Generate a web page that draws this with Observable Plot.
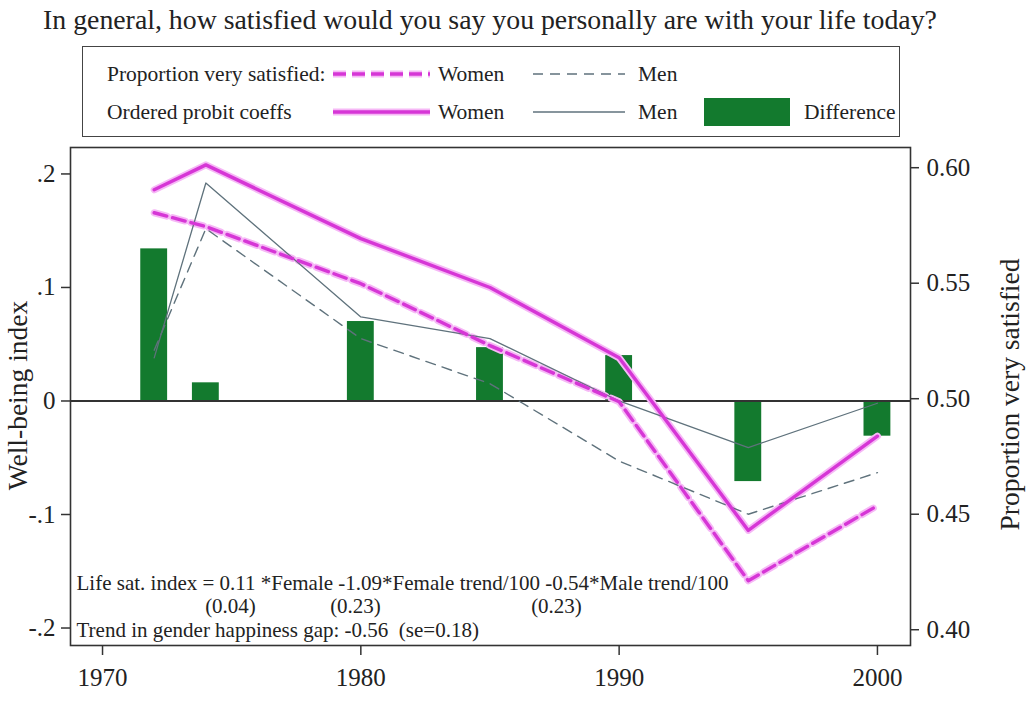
<!DOCTYPE html>
<html><head><meta charset="utf-8">
<script src="https://cdn.jsdelivr.net/npm/d3@7"></script>
<script src="https://cdn.jsdelivr.net/npm/@observablehq/plot@0.6"></script>
<style>
body{margin:0;background:#fff;font-family:"Liberation Serif","Times New Roman",serif;color:#222}
#wrap{position:relative;width:1026px;height:702px;overflow:hidden;background:#fff}
#title{position:absolute;top:4px;left:0;width:980px;text-align:center;font-size:27.8px;line-height:32px;white-space:nowrap}
#legend{position:absolute;left:82px;top:46px;width:816px;height:89px;border:1.5px solid #444}
.lt{position:absolute;font-size:21.5px;line-height:24px;white-space:nowrap}
.sw{position:absolute;overflow:visible}
#chart{position:absolute;left:0;top:140px}
</style></head><body>
<div id="wrap">
  <div id="title"></div>
  <div id="legend"></div>
  <div id="chart"></div>
</div>
<script>
// ---- data ----
const years = [1972, 1974, 1980, 1985, 1990, 1995, 2000];
const probitWomen = [0.186, 0.208, 0.143, 0.100, 0.038, -0.114, -0.031];
const probitMen = [0.038, 0.192, 0.074, 0.055, 0.000, -0.041, -0.002];
const difference = [0.134, 0.016, 0.070, 0.047, 0.040, -0.071, -0.031];
const propWomen = [0.5805, 0.5745, 0.5498, 0.523, 0.4987, 0.4212, 0.4537];
const propMen = [0.521, 0.5736, 0.526, 0.5065, 0.473, 0.450, 0.468];

const xTicks = [1970, 1980, 1990, 2000];
const leftTicks = [-0.2, -0.1, 0, 0.1, 0.2];
const leftTickLabels = ["-.2", "-.1", "0", ".1", ".2"];
const rightTicks = [0.40, 0.45, 0.50, 0.55, 0.60];
const rightTickLabels = ["0.40", "0.45", "0.50", "0.55", "0.60"];

const titleText = "In general, how satisfied would you say you personally are with your life today?";
const yLabelLeft = "Well-being index";
const yLabelRight = "Proportion very satisfied";
const eqLine = "Life sat. index = 0.11 *Female -1.09*Female trend/100 -0.54*Male trend/100";
const seLabels = ["(0.04)", "(0.23)", "(0.23)"];
const gapLine = "Trend in gender happiness gap: -0.56\u00a0 (se=0.18)";

// ---- styles ----
const MAGENTA = "#d636d6", GLOW = "#f6b8f6", MEN = "#5f727c", GREEN = "#137a2e", INK = "#333";

// right axis (proportion) expressed in left-axis units
const toLeft = r => (r - 0.5) * 2.035 + 0.002;
const rightTickPos = rightTicks.map(toLeft);

const rows = years.map((year, i) => ({
  year,
  pw: probitWomen[i], pm: probitMen[i], diff: difference[i],
  sw: toLeft(propWomen[i]), sm: toLeft(propMen[i])
}));

const chart = Plot.plot({
  width: 1026, height: 562,
  marginLeft: 70, marginRight: 116, marginTop: 7, marginBottom: 57,
  style: {fontFamily: "Liberation Serif, Times New Roman, serif", fontSize: "25px", color: "#222", background: "transparent"},
  x: {domain: [1968.76, 2001.28]},
  y: {domain: [-0.2154, 0.2233]},
  marks: [
    Plot.rectY(rows, {x1: d => d.year - 0.52, x2: d => d.year + 0.52, y1: 0, y2: "diff", fill: GREEN}),
    Plot.ruleY([0], {stroke: INK, strokeWidth: 2}),
    // glows
    Plot.line(rows, {x: "year", y: "pw", stroke: GLOW, strokeWidth: 7}),
    Plot.line(rows, {x: "year", y: "sw", stroke: GLOW, strokeWidth: 7, strokeDasharray: "13,6"}),
    // men
    Plot.line(rows, {x: "year", y: "sm", stroke: MEN, strokeWidth: 1.4, strokeDasharray: "10,7"}),
    Plot.line(rows, {x: "year", y: "pm", stroke: MEN, strokeWidth: 1.3}),
    // women
    Plot.line(rows, {x: "year", y: "sw", stroke: MAGENTA, strokeWidth: 3.4, strokeDasharray: "13,6"}),
    Plot.line(rows, {x: "year", y: "pw", stroke: MAGENTA, strokeWidth: 3.4}),
    Plot.frame({stroke: INK, strokeWidth: 1.6}),
    Plot.axisX({ticks: xTicks, tickFormat: "d", tickSize: 10, tickPadding: 13, label: null, stroke: INK, strokeWidth: 1.5}),
    Plot.axisY({ticks: leftTicks, tickFormat: d => leftTickLabels[leftTicks.indexOf(d)], tickSize: 9, tickPadding: 6, label: null, stroke: INK, strokeWidth: 1.5}),
    Plot.axisY({anchor: "right", ticks: rightTickPos, tickFormat: d => rightTickLabels[rightTickPos.indexOf(d)], tickSize: 8, tickPadding: 8, label: null, stroke: INK, strokeWidth: 1.5}),
    Plot.text([yLabelLeft], {text: d => d, frameAnchor: "left", textAnchor: "middle", dx: -52, dy: -1, rotate: -90, fontSize: 27.5, fill: "#222"}),
    Plot.text([yLabelRight], {text: d => d, frameAnchor: "right", textAnchor: "middle", dx: 100, dy: -2, rotate: -90, fontSize: 27.5, fill: "#222"}),
    Plot.text([eqLine], {text: d => d, frameAnchor: "bottom-left", textAnchor: "start", lineAnchor: "bottom", dx: 6, dy: -56, fontSize: 21, fill: "#222", letterSpacing: "0.3px"}),
    Plot.text([seLabels[0]], {text: d => d, frameAnchor: "bottom-left", textAnchor: "middle", lineAnchor: "bottom", dx: 160, dy: -33, fontSize: 21, fill: "#222"}),
    Plot.text([seLabels[1]], {text: d => d, frameAnchor: "bottom-left", textAnchor: "middle", lineAnchor: "bottom", dx: 285, dy: -33, fontSize: 21, fill: "#222"}),
    Plot.text([seLabels[2]], {text: d => d, frameAnchor: "bottom-left", textAnchor: "middle", lineAnchor: "bottom", dx: 486, dy: -33, fontSize: 21, fill: "#222"}),
    Plot.text([gapLine], {text: d => d, frameAnchor: "bottom-left", textAnchor: "start", lineAnchor: "bottom", dx: 6, dy: -9, fontSize: 21, fill: "#222"})
  ]
});
document.getElementById("chart").appendChild(chart);
document.getElementById("title").textContent = titleText;

// ---- legend (HTML) ----
const legendRows = [
  {label: "Proportion very satisfied:", items: [
    {kind: "line", stroke: MAGENTA, width: 3.4, dash: "13,6", glow: true, text: "Women"},
    {kind: "line", stroke: MEN, width: 1.4, dash: "10,7", text: "Men"}
  ]},
  {label: "Ordered probit coeffs", items: [
    {kind: "line", stroke: MAGENTA, width: 3.4, dash: null, glow: true, text: "Women"},
    {kind: "line", stroke: MEN, width: 1.3, dash: null, text: "Men"},
    {kind: "rect", fill: GREEN, text: "Difference"}
  ]}
];
const legend = document.getElementById("legend");
const rowCenters = [27, 65];          // px inside the legend box
const swatchX = [[250, 347], [450, 542], [621, 707]];
const textX = [355, 555, 721];
const ns = "http://www.w3.org/2000/svg";
legendRows.forEach((row, r) => {
  const cy = rowCenters[r];
  const t = document.createElement("div");
  t.className = "lt"; t.style.left = "24px"; t.style.top = (cy - 12) + "px"; t.textContent = row.label;
  legend.appendChild(t);
  row.items.forEach((it, k) => {
    const [x0, x1] = swatchX[k];
    const svg = document.createElementNS(ns, "svg");
    svg.setAttribute("class", "sw");
    svg.setAttribute("width", x1 - x0); svg.setAttribute("height", 32);
    svg.style.left = x0 + "px"; svg.style.top = (cy - 16) + "px";
    if (it.kind === "line") {
      const mk = (stroke, w) => {
        const l = document.createElementNS(ns, "line");
        l.setAttribute("x1", 0); l.setAttribute("x2", x1 - x0);
        l.setAttribute("y1", 16); l.setAttribute("y2", 16);
        l.setAttribute("stroke", stroke); l.setAttribute("stroke-width", w);
        if (it.dash) l.setAttribute("stroke-dasharray", it.dash);
        svg.appendChild(l);
      };
      if (it.glow) mk(GLOW, 7);
      mk(it.stroke, it.width);
    } else {
      const rc = document.createElementNS(ns, "rect");
      rc.setAttribute("x", 0); rc.setAttribute("y", 2);
      rc.setAttribute("width", x1 - x0); rc.setAttribute("height", 28);
      rc.setAttribute("fill", it.fill);
      svg.appendChild(rc);
    }
    legend.appendChild(svg);
    const tt = document.createElement("div");
    tt.className = "lt"; tt.style.left = textX[k] + "px"; tt.style.top = (cy - 12) + "px"; tt.textContent = it.text;
    legend.appendChild(tt);
  });
});
</script>
</body></html>
